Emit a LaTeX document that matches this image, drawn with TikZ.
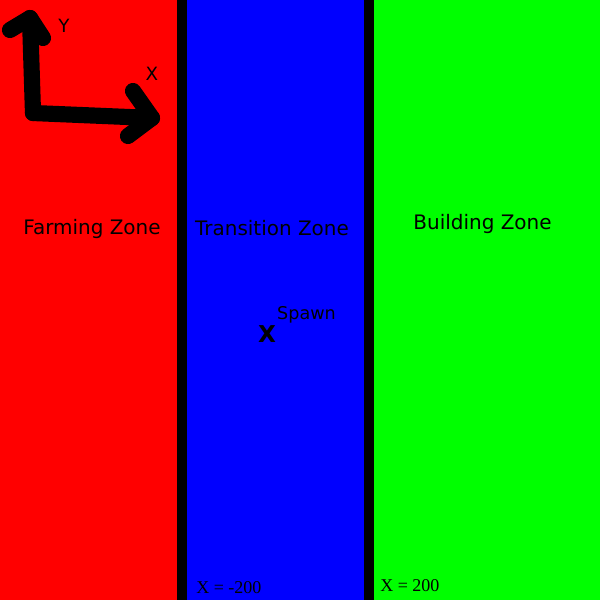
\documentclass[tikz,border=0pt]{standalone}
\usepackage{fontspec}
\setmainfont{DejaVu Sans}
\newfontfamily\numfont{Liberation Serif}
\begin{document}
\begin{tikzpicture}[x=0.025cm,y=-0.025cm,
  zonelabel/.style={inner sep=0pt,font=\fontsize{14.2pt}{16pt}\selectfont},
  axislabel/.style={inner sep=0pt,font=\fontsize{13pt}{15pt}\selectfont},
  bottomlabel/.style={inner sep=0pt,anchor=west,font=\numfont\fontsize{12.8pt}{14pt}\selectfont},
  bigstroke/.style={line width=11.5pt,line cap=round,line join=round}]
\useasboundingbox (0,0) rectangle (600,600);
\fill[black] (0,0) rectangle (600,600);
\fill[red] (0,0) rectangle (177,600);
\fill[blue] (187,0) rectangle (364,600);
\fill[green] (374,0) rectangle (600,600);
% axes
\coordinate (o) at (33,113);
\coordinate (ytip) at (30,18);
\coordinate (xtip) at (152,118);
\draw[bigstroke] (o) -- (ytip);
\draw[bigstroke] (o) -- (xtip);
\draw[bigstroke] (10,30) -- (ytip) -- (43,38);
\draw[bigstroke] (133,91) -- (xtip) -- (128,136);
\node[axislabel] (ylab) at (64,26) {Y};
\node[axislabel] (xlab) at (152,74) {X};
% zone labels
\node[zonelabel] (farm) at (92,228.5) {Farming Zone};
\node[zonelabel] (trans) at (272,228.5) {Transition Zone};
\node[zonelabel] (build) at (482.5,223.5) {Building Zone};
% spawn
\node[inner sep=0pt,font=\fontsize{16.5pt}{18pt}\selectfont\bfseries] (spawnx) at (267,334) {X};
\node[inner sep=0pt,font=\fontsize{12.5pt}{14pt}\selectfont] (spawn) at (306.5,315) {Spawn};
% bottom labels
\node[bottomlabel] (lm) at (196,588) {X = -200};
\node[bottomlabel] (lp) at (380,586) {X = 200};
\end{tikzpicture}
\end{document}
